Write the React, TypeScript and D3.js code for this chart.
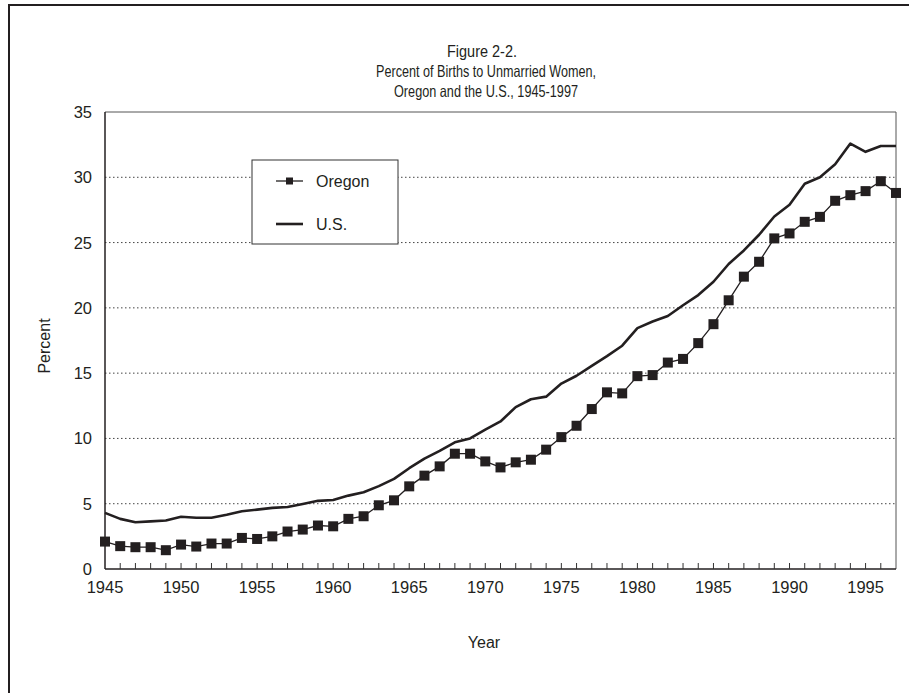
import React from "react";
import * as d3 from "d3";

const years = [
  1945, 1946, 1947, 1948, 1949, 1950, 1951, 1952, 1953, 1954, 1955, 1956, 1957, 1958, 1959, 1960, 1961, 1962,
  1963, 1964, 1965, 1966, 1967, 1968, 1969, 1970, 1971, 1972, 1973, 1974, 1975, 1976, 1977, 1978, 1979, 1980,
  1981, 1982, 1983, 1984, 1985, 1986, 1987, 1988, 1989, 1990, 1991, 1992, 1993, 1994, 1995, 1996, 1997,
];

const oregon = [
  2.1, 1.75, 1.67, 1.67, 1.44, 1.87, 1.72, 1.95, 1.95, 2.38, 2.3, 2.5, 2.87, 3.02, 3.33, 3.27, 3.84, 4.04,
  4.88, 5.26, 6.33, 7.15, 7.86, 8.83, 8.83, 8.24, 7.78, 8.17, 8.37, 9.14, 10.1, 10.97, 12.25, 13.53, 13.45, 14.77,
  14.85, 15.81, 16.09, 17.3, 18.75, 20.58, 22.39, 23.53, 25.32, 25.7, 26.59, 26.97, 28.2, 28.63, 28.94, 29.7, 28.8,
];

const us = [
  4.3, 3.84, 3.58, 3.65, 3.72, 4.0, 3.92, 3.92, 4.15, 4.42, 4.55, 4.68, 4.75, 4.98, 5.22, 5.28, 5.62, 5.88,
  6.35, 6.9, 7.72, 8.45, 9.05, 9.7, 10.0, 10.67, 11.3, 12.4, 13.0, 13.2, 14.2, 14.8, 15.55, 16.3, 17.1, 18.45,
  18.95, 19.38, 20.2, 20.98, 22.0, 23.36, 24.4, 25.6, 27.0, 27.9, 29.5, 30.0, 31.0, 32.58, 31.95, 32.4, 32.4,
];

const yTicks = [0, 5, 10, 15, 20, 25, 30, 35];
const xTickLabels = [1945, 1950, 1955, 1960, 1965, 1970, 1975, 1980, 1985, 1990, 1995];
const gridValues = [5, 10, 15, 20, 25, 30];
const titleLines = ["Figure 2-2.", "Percent of Births to Unmarried Women,", "Oregon and the U.S., 1945-1997"];
const titleWidths = [70, 220, 184];
const seriesNames = ["Oregon", "U.S."];

const FONT = "'Liberation Sans', Arial, Helvetica, sans-serif";
const INK = "#231f20";

export default function App() {
  const W = 909;
  const H = 693;
  const L = 105, R = 896, T = 112, B = 569;
  const x = d3.scaleLinear().domain([1945, 1997]).range([L, R]);
  const y = d3.scaleLinear().domain([0, 35]).range([B, T]);

  const lineOr = d3.line<number>().x((_, i) => x(years[i])).y((d) => y(d))(oregon) || "";
  const lineUs = d3.line<number>().x((_, i) => x(years[i])).y((d) => y(d))(us) || "";

  const legend = { x0: 252, y0: 160, x1: 398, y1: 244 };
  const ms = 10;

  return (
    <svg width={W} height={H} style={{ position: "absolute", left: 0, top: 0, background: "#fff" }} fontFamily={FONT}>
      <rect x={0} y={0} width={W} height={H} fill="#fff" />
      {/* outer frame */}
      <line x1={8} y1={5} x2={W} y2={5} stroke={INK} strokeWidth={2} />
      <line x1={9} y1={4} x2={9} y2={H} stroke={INK} strokeWidth={2} />

      {/* title */}
      {titleLines.map((t, i) => (
        <text
          key={i}
          x={i === 0 ? 482 : 486}
          y={57 + i * 20}
          textAnchor="middle"
          fontSize={16.5}
          fill={INK}
          textLength={titleWidths[i]}
          lengthAdjust="spacingAndGlyphs"
        >
          {t}
        </text>
      ))}

      {/* gridlines */}
      {gridValues.map((v) => (
        <line key={v} x1={L} x2={R} y1={y(v)} y2={y(v)} stroke="#444" strokeWidth={1} strokeDasharray="1.5,2.5" />
      ))}

      {/* plot border */}
      <line x1={L} x2={R} y1={T} y2={T} stroke="#555" strokeWidth={1} />
      <line x1={R} x2={R} y1={T} y2={B} stroke="#555" strokeWidth={1} />
      <line x1={L} x2={L} y1={T} y2={B} stroke={INK} strokeWidth={1.5} />
      <line x1={L} x2={R} y1={B} y2={B} stroke={INK} strokeWidth={1.5} />

      {/* x ticks */}
      {years.slice(1, -1).map((yr) => (
        <line key={yr} x1={x(yr)} x2={x(yr)} y1={B} y2={B - 6} stroke="#333" strokeWidth={1} />
      ))}

      {/* y tick labels */}
      {yTicks.map((v) => (
        <text key={v} x={92} y={y(v) + 6} textAnchor="end" fontSize={16.5} fill={INK}>
          {v}
        </text>
      ))}
      {/* x tick labels */}
      {xTickLabels.map((v) => (
        <text key={v} x={x(v)} y={593} textAnchor="middle" fontSize={16.5} fill={INK}>
          {v}
        </text>
      ))}

      {/* axis titles */}
      <text x={484} y={648} textAnchor="middle" fontSize={16} fill={INK}>Year</text>
      <text transform={`translate(50,346) rotate(-90)`} textAnchor="middle" fontSize={16} fill={INK}>
        Percent
      </text>

      {/* series */}
      <path d={lineUs} fill="none" stroke={INK} strokeWidth={2.6} strokeLinejoin="round" />
      <path d={lineOr} fill="none" stroke={INK} strokeWidth={1.3} />
      {oregon.map((v, i) => (
        <rect key={i} x={x(years[i]) - ms / 2} y={y(v) - ms / 2} width={ms} height={ms} fill={INK} />
      ))}

      {/* legend */}
      <rect x={legend.x0} y={legend.y0} width={legend.x1 - legend.x0} height={legend.y1 - legend.y0} fill="#fff" stroke="#333" strokeWidth={1} />
      <line x1={276} x2={303} y1={181} y2={181} stroke={INK} strokeWidth={1.3} />
      <rect x={289.5 - 3.5} y={181 - 3.5} width={7} height={7} fill={INK} />
      <text x={316} y={187} fontSize={16} fill={INK}>{seriesNames[0]}</text>
      <line x1={276} x2={303} y1={224} y2={224} stroke={INK} strokeWidth={2.6} />
      <text x={316} y={230} fontSize={16} fill={INK}>{seriesNames[1]}</text>
    </svg>
  );
}
